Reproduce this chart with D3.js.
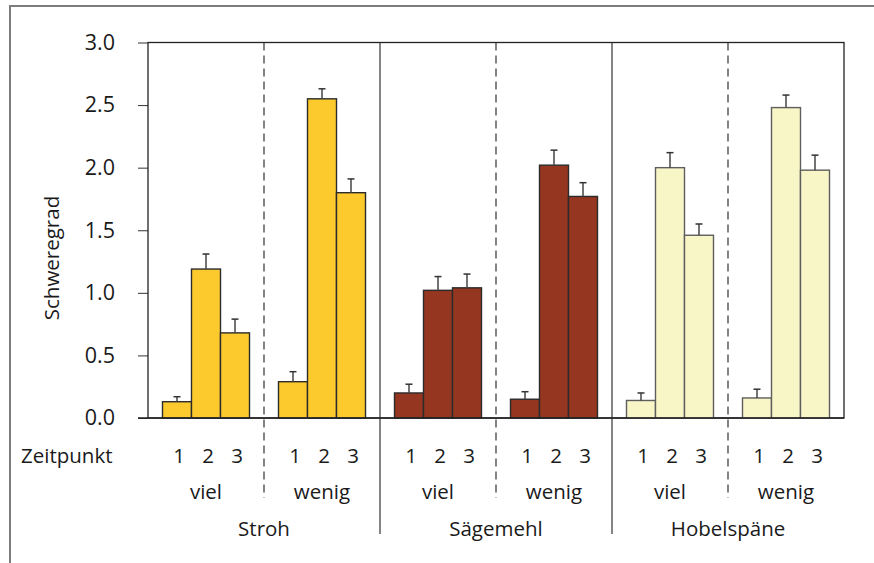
<!DOCTYPE html>
<html>
<head>
<meta charset="utf-8">
<script src="https://cdn.jsdelivr.net/npm/d3@7"></script>
<style>
  body { margin: 0; background: #fff; }
  svg text { font-family: "Open Sans", "Noto Sans", sans-serif; fill: #1a1a1a; }
</style>
</head>
<body>
<svg id="chart" width="874" height="563"></svg>
<script>
// categories
const materials = ["Stroh", "Sägemehl", "Hobelspäne"];
const amounts = ["viel", "wenig"];
const timepoints = ["1", "2", "3"];
const yTicks = [0, 0.5, 1.0, 1.5, 2.0, 2.5, 3.0];

// means per material: viel 1-3, then wenig 1-3
const strohMeans = [0.13, 1.19, 0.68, 0.29, 2.55, 1.80];
const saegemehlMeans = [0.20, 1.02, 1.04, 0.15, 2.02, 1.77];
const hobelMeans = [0.14, 2.00, 1.46, 0.16, 2.48, 1.98];

// upper end of the error bars
const strohErr = [0.17, 1.31, 0.79, 0.37, 2.63, 1.91];
const saegemehlErr = [0.27, 1.13, 1.15, 0.21, 2.14, 1.88];
const hobelErr = [0.20, 2.12, 1.55, 0.23, 2.58, 2.10];

const fills = ["#fdca2e", "#953620", "#f8f6c6"];
const strokes = ["#2b2b2b", "#2b2b2b", "#5e5e5e"];

const meansByMaterial = [strohMeans, saegemehlMeans, hobelMeans];
const errByMaterial = [strohErr, saegemehlErr, hobelErr];

const labelSize = "20.5px";

// flatten into one row per bar
let bars = [];
materials.forEach((m, mi) => {
    amounts.forEach((a, ai) => {
        timepoints.forEach((t, ti) => {
            bars.push({
                material: m, mi: mi, amount: a, time: t,
                value: meansByMaterial[mi][ai * 3 + ti],
                err: errByMaterial[mi][ai * 3 + ti]
            });
        });
    });
});

const svg = d3.select("#chart");

const plotLeft = 148, plotRight = 844, plotTop = 42.5, plotBottom = 418;

// outer frame (top and left only)
svg.append("path")
    .attr("d", "M10,563 L10,6 L874,6")
    .attr("fill", "none")
    .attr("stroke", "#7d7d7d")
    .attr("stroke-width", 2);

const groups = [];
materials.forEach(m => amounts.forEach(a => groups.push(m + "|" + a)));

const xGroup = d3.scaleBand().domain(groups).range([plotLeft, plotRight]).padding(0);
const xTime = d3.scaleBand().domain(timepoints).range([0, xGroup.bandwidth()])
    .paddingOuter(0.5).paddingInner(0);
const y = d3.scaleLinear().domain([0, 3]).range([plotBottom, plotTop]);

// y axis
const yAxis = svg.append("g")
    .attr("transform", `translate(${plotLeft},0)`)
    .call(d3.axisLeft(y).tickValues(yTicks).tickFormat(d3.format(".1f"))
        .tickSize(10).tickPadding(23));
yAxis.select(".domain").remove();
yAxis.selectAll(".tick line").attr("stroke", "#333");
yAxis.selectAll(".tick text")
    .style("font-size", "21.5px")
    .attr("fill", "#1a1a1a");

// plot box
svg.append("rect")
    .attr("x", plotLeft).attr("y", plotTop)
    .attr("width", plotRight - plotLeft).attr("height", plotBottom - plotTop)
    .attr("fill", "none")
    .attr("stroke", "#222")
    .attr("stroke-width", 1.3);

// separators between materials (solid) and amounts (dashed)
materials.forEach((m, mi) => {
    let xd = xGroup(m + "|wenig");
    svg.append("line")
        .attr("x1", xd).attr("x2", xd)
        .attr("y1", plotTop).attr("y2", 498)
        .attr("stroke", "#333").attr("stroke-width", 1.2)
        .attr("stroke-dasharray", "8,5");
    if (mi > 0) {
        let xs = xGroup(m + "|viel");
        svg.append("line")
            .attr("x1", xs).attr("x2", xs)
            .attr("y1", plotTop).attr("y2", 534)
            .attr("stroke", "#333").attr("stroke-width", 1.2);
    }
});

// bars
svg.selectAll("rect.bar")
    .data(bars)
    .join("rect")
    .attr("class", "bar")
    .attr("x", d => xGroup(d.material + "|" + d.amount) + xTime(d.time))
    .attr("y", d => y(d.value))
    .attr("width", xTime.bandwidth())
    .attr("height", d => y(0) - y(d.value))
    .attr("fill", d => fills[d.mi])
    .attr("stroke", d => strokes[d.mi])
    .attr("stroke-width", 1.4);

// error bars
const errG = svg.selectAll("g.err")
    .data(bars)
    .join("g")
    .attr("class", "err")
    .attr("transform", d => `translate(${xGroup(d.material + "|" + d.amount) + xTime(d.time) + xTime.bandwidth() / 2},0)`);
errG.append("line")
    .attr("y1", d => y(d.value)).attr("y2", d => y(d.err))
    .attr("stroke", "#444").attr("stroke-width", 1.5);
errG.append("line")
    .attr("x1", -3.5).attr("x2", 3.5)
    .attr("y1", d => y(d.err)).attr("y2", d => y(d.err))
    .attr("stroke", "#333").attr("stroke-width", 1.5);

// bottom line over bars
svg.append("line")
    .attr("x1", plotLeft - 10).attr("x2", plotRight)
    .attr("y1", plotBottom).attr("y2", plotBottom)
    .attr("stroke", "#222").attr("stroke-width", 1.4);

// x labels: time points
svg.selectAll("text.time")
    .data(bars)
    .join("text")
    .attr("class", "time")
    .attr("x", d => xGroup(d.material + "|" + d.amount) + xTime(d.time) + xTime.bandwidth() / 2 + 2)
    .attr("y", 462.5)
    .attr("text-anchor", "middle")
    .style("font-size", labelSize)
    .text(d => d.time);

svg.append("text")
    .attr("x", 21).attr("y", 462.5)
    .style("font-size", labelSize)
    .text("Zeitpunkt");

// amounts
svg.selectAll("text.amount")
    .data(groups)
    .join("text")
    .attr("class", "amount")
    .attr("x", d => xGroup(d) + xGroup.bandwidth() / 2)
    .attr("y", 499)
    .attr("text-anchor", "middle")
    .style("font-size", labelSize)
    .text(d => d.split("|")[1]);

// materials
svg.selectAll("text.material")
    .data(materials)
    .join("text")
    .attr("class", "material")
    .attr("x", d => xGroup(d + "|wenig"))
    .attr("y", 536)
    .attr("text-anchor", "middle")
    .style("font-size", labelSize)
    .text(d => d);

// y axis title
svg.append("text")
    .attr("transform", "translate(59,258) rotate(-90)")
    .attr("text-anchor", "middle")
    .style("font-size", labelSize)
    .text("Schweregrad");
</script>
</body>
</html>
